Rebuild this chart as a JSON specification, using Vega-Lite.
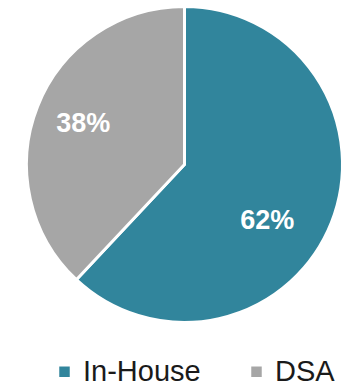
{
  "$schema": "https://vega.github.io/schema/vega-lite/v6.json",
  "width": 333,
  "height": 329,
  "autosize": {"type": "none"},
  "padding": {"left": 18, "top": 0, "right": 0, "bottom": 58},
  "background": "white",
  "config": {"view": {"stroke": null}, "font": "Liberation Sans"},
  "data": {"values": [
    {"category": "In-House", "value": 62, "label": "62%"},
    {"category": "DSA", "value": 38, "label": "38%"}
  ]},
  "encoding": {
    "theta": {"field": "value", "type": "quantitative", "stack": true},
    "order": {"field": "value", "type": "quantitative", "sort": "descending"}
  },
  "layer": [
    {
      "mark": {"type": "arc", "outerRadius": 158, "stroke": "white", "strokeWidth": 3},
      "encoding": {
        "color": {
          "field": "category", "type": "nominal",
          "scale": {"domain": ["In-House", "DSA"], "range": ["#31859C", "#A6A6A6"]},
          "legend": {
            "title": null, "orient": "none", "direction": "horizontal",
            "legendX": 32, "legendY": 357, "padding": 0,
            "symbolType": "square", "symbolSize": 110, "symbolStrokeWidth": 0,
            "labelFontSize": 29, "labelColor": "#1a1a1a", "labelFont": "Liberation Sans",
            "labelOffset": 4, "columnPadding": 41, "labelLimit": 300
          }
        }
      }
    },
    {
      "mark": {"type": "text", "radius": 90, "dy": 23, "dx": -1, "fontSize": 27, "fontWeight": "bold", "fill": "white", "font": "Liberation Sans"},
      "encoding": {
        "text": {"condition": {"test": "datum.category === 'In-House'", "field": "label"}, "value": ""}
      }
    },
    {
      "mark": {"type": "text", "radius": 109, "fontSize": 27, "fontWeight": "bold", "fill": "white", "font": "Liberation Sans"},
      "encoding": {
        "text": {"condition": {"test": "datum.category === 'DSA'", "field": "label"}, "value": ""}
      }
    }
  ]
}
